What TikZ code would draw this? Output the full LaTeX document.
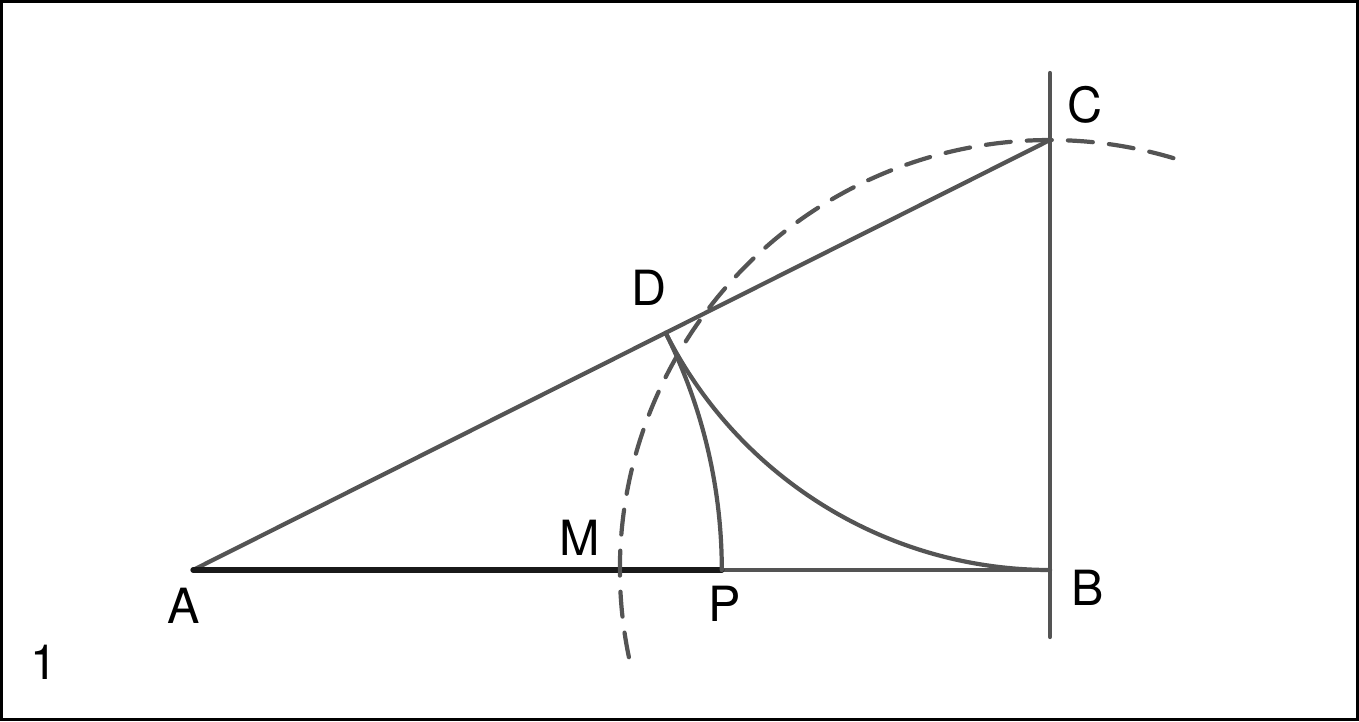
\documentclass[tikz,border=0pt]{standalone}
\usepackage{fontspec}
\setmainfont{TeX Gyre Heros}
\usetikzlibrary{positioning}

\begin{document}
\begin{tikzpicture}[
  line/.style = {line width=1.2pt, color=black!67, line cap=round},
  lbl/.style = {font=\fontsize{13.8}{16}\selectfont, text=black, inner sep=0pt}
]
\useasboundingbox (0, 0) rectangle (13.59, 7.21);
\draw[line width=0.9pt] (0.015, 0.015) rectangle (13.575, 7.195);

\coordinate (A) at (1.93, 1.51);
\coordinate (B) at (10.50, 1.51);
\coordinate (C) at (10.50, 5.81);
\coordinate (D) at (6.657, 3.882);
\coordinate (P) at (7.218, 1.51);
\coordinate (M) at (6.215, 1.51);
\coordinate (top) at (10.50, 6.48);
\coordinate (bot) at (10.50, 0.84);
\coordinate (start) at (6.289, 0.638);

\node[lbl] (a) at (1.84, 1.15) {A};
\node[lbl] (b) at (10.88, 1.33) {B};
\node[lbl] (c) at (10.85, 6.16) {C};
\node[lbl] (d) at (6.49, 4.33) {D};
\node[lbl] (m) at (5.80, 1.83) {M};
\node[lbl] (p) at (7.25, 1.17) {P};
\node[lbl] (num) at (0.44, 0.59) {1};

\draw[line] (top) -- (bot);
\draw[line] (A) -- (C);
\draw[line] (P) -- (B);
\draw[line width=1.5pt, black!90, line cap=round] (A) -- (P);

\draw[line] (P) arc[start angle=0, end angle=26.65, radius=5.288];
\draw[line] (B) arc[start angle=270, end angle=206.65, radius=4.30];

\draw[line, dash pattern=on 7.1pt off 4.6pt] (start) arc[start angle=191.7, end angle=71.7, radius=4.30];

\end{tikzpicture}
\end{document}
